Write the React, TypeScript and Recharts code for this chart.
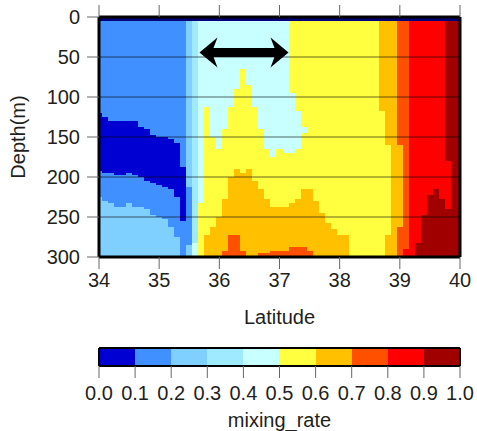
import React from 'react';
import {
  BarChart,
  Bar,
  XAxis,
  YAxis,
  ReferenceLine,
} from 'recharts';

const FONT = '"Liberation Sans", Arial, sans-serif';
const INK = '#231f20';
const TICK = '#666666';

const levelColors = [
  '#0000d2',
  '#4090ff',
  '#80d0ff',
  '#a0eaff',
  '#c8ffff',
  '#ffff40',
  '#ffc000',
  '#ff5000',
  '#ff0000',
  '#a00000',
];
const surfaceColor = '#00007a';
const latTicks = [34, 35, 36, 37, 38, 39, 40];
const depthTicks = [0, 50, 100, 150, 200, 250, 300];
const gridDepths = [50, 100, 150, 200, 250];
const rateTicks = [0, 0.1, 0.2, 0.3, 0.4, 0.5, 0.6, 0.7, 0.8, 0.9, 1];
const rateBins = [0.05, 0.15, 0.25, 0.35, 0.45, 0.55, 0.65, 0.75, 0.85, 0.95];

const latitudes = [
  34.0, 34.1, 34.2, 34.3, 34.4, 34.5, 34.6, 34.7, 34.8, 34.9,
  35.0, 35.1, 35.2, 35.3, 35.4, 35.5, 35.6, 35.7, 35.8, 35.9,
  36.0, 36.1, 36.2, 36.3, 36.4, 36.5, 36.6, 36.7, 36.8, 36.9,
  37.0, 37.1, 37.2, 37.3, 37.4, 37.5, 37.6, 37.7, 37.8, 37.9,
  38.0, 38.1, 38.2, 38.3, 38.4, 38.5, 38.6, 38.7, 38.8, 38.9,
  39.0, 39.1, 39.2, 39.3, 39.4, 39.5, 39.6, 39.7, 39.8, 39.9,
  40.0,
];

// one entry per latitude: level, bottom depth, level, bottom depth ...
const columnRuns = [
  [0, 5, 1, 120, 0, 192.5, 1, 225, 2, 300],
  [0, 5, 1, 125, 0, 195, 1, 230, 2, 300],
  [0, 5, 1, 130, 0, 195, 1, 232.5, 2, 300],
  [0, 5, 1, 130, 0, 197.5, 1, 237.5, 2, 300],
  [0, 5, 1, 130, 0, 197.5, 1, 237.5, 2, 300],
  [0, 5, 1, 130, 0, 195, 1, 232.5, 2, 300],
  [0, 5, 1, 130, 0, 197.5, 1, 237.5, 2, 300],
  [0, 5, 1, 137.5, 0, 200, 1, 237.5, 2, 300],
  [0, 5, 1, 140, 0, 205, 1, 240, 2, 300],
  [0, 5, 1, 147.5, 0, 207.5, 1, 247.5, 2, 300],
  [0, 5, 1, 150, 0, 210, 1, 250, 2, 300],
  [0, 5, 1, 150, 0, 212.5, 1, 252.5, 2, 300],
  [0, 5, 1, 152.5, 0, 215, 1, 262.5, 2, 300],
  [0, 5, 1, 157.5, 0, 225, 1, 275, 2, 300],
  [0, 5, 1, 187.5, 0, 255, 1, 300],
  [0, 5, 2, 212.5, 1, 285, 2, 300],
  [0, 5, 3, 282.5, 4, 300],
  [0, 5, 4, 232.5, 5, 300],
  [0, 5, 4, 112.5, 5, 272.5, 6, 300],
  [0, 5, 4, 150, 5, 262.5, 6, 300],
  [0, 5, 4, 165, 5, 250, 6, 300],
  [0, 5, 4, 140, 5, 227.5, 6, 292.5, 7, 300],
  [0, 5, 4, 112.5, 5, 200, 6, 272.5, 7, 300],
  [0, 5, 4, 90, 5, 190, 6, 272.5, 7, 300],
  [0, 5, 4, 65, 5, 195, 6, 292.5, 7, 300],
  [0, 5, 4, 85, 5, 190, 6, 300],
  [0, 5, 4, 112.5, 5, 205, 6, 300],
  [0, 5, 4, 140, 5, 215, 6, 295, 7, 300],
  [0, 5, 4, 165, 5, 227.5, 6, 295, 7, 300],
  [0, 5, 4, 175, 5, 237.5, 6, 292.5, 7, 300],
  [0, 5, 4, 165, 5, 237.5, 6, 292.5, 7, 300],
  [0, 5, 4, 170, 5, 237.5, 6, 292.5, 7, 300],
  [0, 5, 5, 95, 4, 170, 5, 232.5, 6, 287.5, 7, 300],
  [0, 5, 5, 117.5, 4, 165, 5, 227.5, 6, 287.5, 7, 300],
  [0, 5, 5, 137.5, 4, 145, 5, 215, 6, 287.5, 7, 300],
  [0, 5, 5, 215, 6, 292.5, 7, 300],
  [0, 5, 5, 230, 6, 300],
  [0, 5, 5, 245, 6, 300],
  [0, 5, 5, 257.5, 6, 300],
  [0, 5, 5, 265, 6, 300],
  [0, 5, 5, 272.5, 6, 300],
  [0, 5, 5, 272.5, 6, 300],
  [0, 5, 5, 300],
  [0, 5, 5, 300],
  [0, 5, 5, 300],
  [0, 5, 5, 300],
  [0, 5, 5, 300],
  [0, 5, 6, 117.5, 5, 300],
  [0, 5, 6, 160, 5, 272.5, 6, 300],
  [0, 5, 6, 300],
  [0, 5, 7, 160, 6, 262.5, 7, 300],
  [0, 5, 7, 290, 8, 300],
  [0, 5, 8, 300],
  [0, 5, 8, 282.5, 9, 300],
  [0, 5, 8, 247.5, 9, 300],
  [0, 5, 8, 222.5, 9, 300],
  [0, 5, 8, 215, 9, 300],
  [0, 5, 8, 227.5, 9, 300],
  [0, 5, 9, 180, 8, 240, 9, 300],
  [0, 5, 9, 300],
  [0, 5, 9, 300],
];

const arrowLats = [35.67, 37.15];
const arrowDepth = 44.5;

const SEGMENTS = [0, 1, 2, 3, 4, 5, 6];

const fieldRows = latitudes.map((lat, i) => {
  const runs = columnRuns[i];
  const row: Record<string, number> = { lat };
  let top = 0;
  for (let k = 0; k < runs.length / 2; k++) {
    row[`seg${k}`] = runs[k * 2 + 1] - top;
    top = runs[k * 2 + 1];
  }
  return row;
});

const binRows = rateBins.map((bin) => ({ bin, full: 1 }));

// snap a cell to whole pixels so neighbouring columns leave no seam
function snappedRect(props: any, step: number, fill: string) {
  const { x, y, width, height } = props;
  if (!height) return <g />;
  const mid = x + width / 2;
  const left = Math.round(mid - step / 2);
  const right = Math.round(mid + step / 2);
  // the depth axis is reversed, so the height comes in negative
  const top = Math.round(Math.min(y, y + height));
  const bottom = Math.round(Math.max(y, y + height));
  return (
    <rect
      x={left}
      y={top}
      width={right - left}
      height={bottom - top}
      fill={fill}
      shapeRendering="crispEdges"
    />
  );
}

// double headed arrow, drawn between the two ends the reference line hands over
function ArrowShape(props: any) {
  const { x1, x2, y1 } = props;
  const len = 18;
  const half = 15;
  const notch = 14;
  const t = 4.5;
  const d = [
    `M${x1} ${y1}`,
    `L${x1 + len} ${y1 - half}`,
    `L${x1 + notch} ${y1 - t}`,
    `L${x2 - notch} ${y1 - t}`,
    `L${x2 - len} ${y1 - half}`,
    `L${x2} ${y1}`,
    `L${x2 - len} ${y1 + half}`,
    `L${x2 - notch} ${y1 + t}`,
    `L${x1 + notch} ${y1 + t}`,
    `L${x1 + len} ${y1 + half}`,
    'Z',
  ].join(' ');
  return <path d={d} fill="#000" />;
}

const tickText = { fontSize: 20, fill: INK, fontFamily: FONT };
const titleText = { fontSize: 20, fill: INK, fontFamily: FONT };
const noLabel = () => '';

function DepthSection() {
  return (
    <BarChart
      width={477}
      height={330}
      data={fieldRows}
      margin={{ top: 0, right: 0, bottom: 0, left: 0 }}
      barGap={0}
    >
      <XAxis
        dataKey="lat"
        type="number"
        domain={[34, 40]}
        ticks={latTicks}
        allowDataOverflow
        axisLine={false}
        tickSize={12}
        tickMargin={4}
        tick={tickText}
        tickLine={{ stroke: TICK }}
        height={73}
        label={{
          value: 'Latitude',
          position: 'insideBottom',
          offset: 6,
          style: titleText,
        }}
      />
      <XAxis
        xAxisId="top"
        orientation="top"
        dataKey="lat"
        type="number"
        domain={[34, 40]}
        ticks={latTicks}
        axisLine={false}
        tickSize={12}
        tickFormatter={noLabel}
        tickLine={{ stroke: TICK }}
        height={17}
      />
      <YAxis
        type="number"
        reversed
        domain={[0, 300]}
        ticks={depthTicks}
        allowDataOverflow
        axisLine={false}
        tickSize={12}
        tickMargin={7}
        tick={tickText}
        tickLine={{ stroke: TICK }}
        width={99}
        label={{
          value: 'Depth(m)',
          angle: -90,
          position: 'insideLeft',
          offset: 18,
          style: { ...titleText, textAnchor: 'middle' },
        }}
      />
      <YAxis
        yAxisId="right"
        orientation="right"
        type="number"
        reversed
        domain={[0, 300]}
        ticks={depthTicks}
        axisLine={false}
        tickSize={12}
        tickFormatter={noLabel}
        tickLine={{ stroke: TICK }}
        width={17}
      />
      {SEGMENTS.map((k) => (
        <Bar
          key={k}
          dataKey={`seg${k}`}
          stackId="field"
          barSize={6}
          isAnimationActive={false}
          shape={(props: any) =>
            snappedRect(
              props,
              361 / 60,
              k === 0 ? surfaceColor : levelColors[columnRuns[props.index][k * 2] ?? 0]
            )
          }
        />
      ))}
      {gridDepths.map((d) => (
        <ReferenceLine key={d} y={d} stroke="#000" strokeOpacity={0.6} strokeWidth={1} />
      ))}
      <ReferenceLine
        segment={[
          { x: arrowLats[0], y: arrowDepth },
          { x: arrowLats[1], y: arrowDepth },
        ]}
        shape={ArrowShape}
      />
      <ReferenceLine x={34} stroke="#000" strokeWidth={3} />
      <ReferenceLine x={40} stroke="#000" strokeWidth={3} />
      <ReferenceLine y={0} stroke="#000" strokeWidth={3} />
      <ReferenceLine y={300} stroke="#000" strokeWidth={3} />
    </BarChart>
  );
}

function ColorBar() {
  return (
    <BarChart
      width={477}
      height={91}
      data={binRows}
      margin={{ top: 8, right: 17, bottom: 0, left: 99 }}
    >
      <XAxis
        dataKey="bin"
        type="number"
        domain={[0, 1]}
        ticks={rateTicks}
        interval={0}
        tickFormatter={(v: number) => v.toFixed(1)}
        axisLine={false}
        tickSize={12}
        tickMargin={8}
        tick={tickText}
        tickLine={{ stroke: TICK }}
        height={65}
        label={{
          value: 'mixing_rate',
          position: 'insideBottom',
          offset: 4,
          style: titleText,
        }}
      />
      <YAxis type="number" domain={[0, 1]} hide />
      <Bar
        dataKey="full"
        barSize={36}
        isAnimationActive={false}
        shape={(props: any) => snappedRect(props, 36.1, levelColors[props.index])}
      />
      <ReferenceLine x={0} stroke="#000" strokeWidth={2} />
      <ReferenceLine x={1} stroke="#000" strokeWidth={2} />
      <ReferenceLine y={0} stroke="#000" strokeWidth={2} />
      <ReferenceLine y={1} stroke="#000" strokeWidth={2} />
    </BarChart>
  );
}

export default function App() {
  return (
    <div style={{ position: 'absolute', left: 0, top: 0, width: 477, height: 431 }}>
      <DepthSection />
      <div style={{ position: 'absolute', left: 0, top: 340 }}>
        <ColorBar />
      </div>
    </div>
  );
}
